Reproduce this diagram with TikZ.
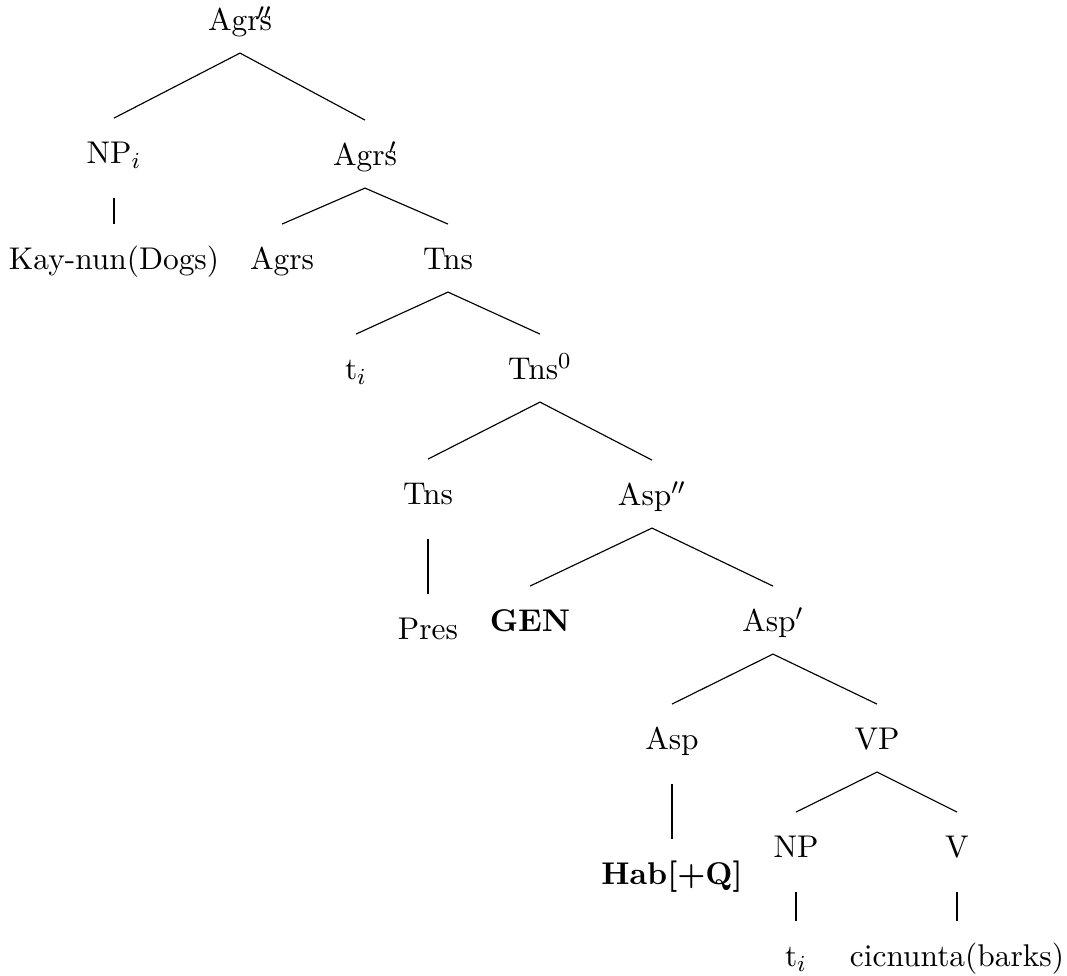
\documentclass[tikz,border=0pt]{standalone}
\begin{document}
\begin{tikzpicture}[x=0.3485pt,y=-0.3485pt,
  lab/.style={anchor=base,inner sep=0pt,outer sep=0pt,text height=16pt,text depth=7.7pt,
    font=\fontsize{10.95pt}{13.6pt}\selectfont},
  branch/.style={line width=0.4pt},
  unary/.style={branch,shorten <=4.2pt}]
\useasboundingbox (0,0) rectangle (1067,976);
\fill[white] (0,0) rectangle (1067,976);

% labels of the tree
\node[lab] (agrspp) at (240,31)  {Agrs\llap{$''$}};
\node[lab] (npi)    at (114,164) {NP$_i$};
\node[lab] (agrsp)  at (365,166) {Agrs\llap{$'$}};
\node[lab] (kay)    at (114,270) {Kay-nun(Dogs)};
\node[lab] (agrs)   at (282,270) {Agrs};
\node[lab] (tnsa)   at (448,270) {Tns};
\node[lab] (tia)    at (356,380) {t$_i$};
\node[lab] (tnsz)   at (540,380) {Tns$^0$};
\node[lab] (tnsb)   at (428,505) {Tns};
\node[lab] (asppp)  at (652,506) {Asp$''$};
\node[lab] (pres)   at (428,640) {Pres};
\node[lab] (gen)    at (530,632) {\textbf{GEN}};
\node[lab] (aspp)   at (773,632) {Asp$'$};
\node[lab] (asp)    at (672,750) {Asp};
\node[lab] (vp)     at (877,750) {VP};
\node[lab] (hab)    at (672,885) {\textbf{Hab[+Q]}};
\node[lab] (np)     at (796,858) {NP};
\node[lab] (v)      at (957,858) {V};
\node[lab] (tib)    at (796,967) {t$_i$};
\node[lab] (cic)    at (957,967) {cicnunta(barks)};

% binary branches
\draw[branch] (npi.north) -- (agrspp.south) -- (agrsp.north);
\draw[branch] (agrs.north) -- (agrsp.south) -- (tnsa.north);
\draw[branch] (tia.north) -- (tnsa.south) -- (tnsz.north);
\draw[branch] (tnsb.north) -- (tnsz.south) -- (asppp.north);
\draw[branch] (gen.north) -- (asppp.south) -- (aspp.north);
\draw[branch] (asp.north) -- (aspp.south) -- (vp.north);
\draw[branch] (np.north) -- (vp.south) -- (v.north);

% unary branches
\draw[unary] (npi.south) -- (kay.north);
\draw[unary] (tnsb.south) -- (pres.north);
\draw[unary] (asp.south) -- (hab.north);
\draw[unary] (np.south) -- (tib.north);
\draw[unary] (v.south) -- (cic.north);
\end{tikzpicture}
\end{document}
